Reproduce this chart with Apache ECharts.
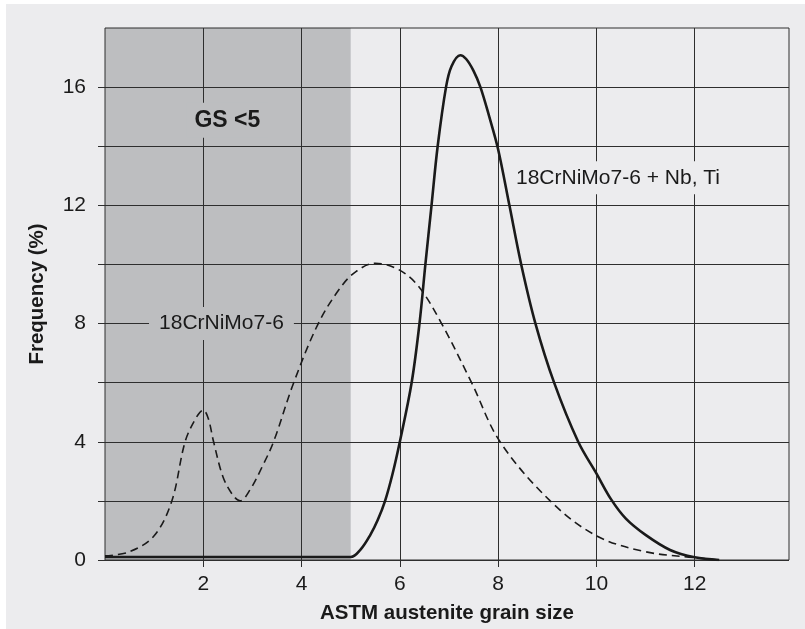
<!DOCTYPE html>
<html>
<head>
<meta charset="utf-8">
<script src="https://cdn.jsdelivr.net/npm/echarts@6/dist/echarts.min.js"></script>
<style>
  html, body { margin: 0; padding: 0; background: #ffffff; }
  #chart { position: absolute; left: 6px; top: 4px; width: 799px; height: 625px; }
</style>
</head>
<body>
<div id="chart"></div>
<script>
// grain size (x) / frequency % (y)
const baseX = [0, 0.5, 1.0, 1.36, 1.63, 1.85, 2.0, 2.1, 2.21, 2.4, 2.6, 2.75, 2.95, 3.2, 3.43, 3.84, 4.34, 4.78, 5.1, 5.5, 5.97, 6.38, 6.85, 7.46, 8.04, 9.06, 10.0, 11.0, 12.0, 12.5];
const baseY = [0.14, 0.28, 0.82, 2.0, 4.0, 4.8, 5.07, 4.8, 4.0, 2.82, 2.2, 2.0, 2.37, 3.16, 4.0, 6.0, 8.0, 9.19, 9.75, 10.04, 9.83, 9.26, 8.0, 6.0, 4.0, 2.0, 0.82, 0.28, 0.08, 0.0];

const nbtiX = [0, 5.0, 5.2, 5.4, 5.55, 5.7, 5.85, 6.0, 6.24, 6.4, 6.52, 6.645, 6.77, 6.94, 7.05, 7.23, 7.35, 7.5, 7.64, 7.82, 8.0, 8.23, 8.47, 8.76, 9.14, 9.63, 10.0, 10.3, 10.6, 11.0, 11.5, 12.0, 12.5];
const nbtiY = [0.1, 0.1, 0.35, 0.85, 1.35, 2.0, 2.9, 4.0, 6.0, 8.0, 10, 12, 14, 16, 16.7, 17.08, 16.95, 16.55, 16.0, 15.0, 13.9, 12, 10, 8, 6, 4, 2.93, 2.05, 1.4, 0.85, 0.34, 0.09, 0.0];

const xTicks = [2, 4, 6, 8, 10, 12];
const yTicks = [0, 2, 4, 6, 8, 10, 12, 14, 16];
const yLabels = [0, 4, 8, 12, 16];

const shadeFrom = 0, shadeTo = 5;

const annoX = [2.49, 2.37, 10.44];
const annoY = [14.88, 8.0, 12.93];
const annoText = ['GS <5', '18CrNiMo7-6', '18CrNiMo7-6 + Nb, Ti'];

const zip = (a, b) => a.map((v, i) => [v, b[i]]);

const font = '"Liberation Sans", Arial, Helvetica, sans-serif';
const ink = '#1a1a1a';
const bg = '#ececee';
const shade = '#bdbec0';

const annoStyle = [
  { fontSize: 23, fontWeight: 'bold', backgroundColor: shade, padding: [6, 8] },
  { fontSize: 21, fontWeight: 'normal', backgroundColor: shade, padding: [6, 10] },
  { fontSize: 21, fontWeight: 'normal', backgroundColor: bg, padding: [6, 4] }
];

const chart = echarts.init(document.getElementById('chart'), null, { renderer: 'canvas' });

const option = {
  backgroundColor: bg,
  animation: false,
  textStyle: { fontFamily: font },
  grid: {
    show: true,
    left: 99, right: 16, top: 24, bottom: 69,
    borderColor: '#2e2e2e', borderWidth: 1,
    backgroundColor: 'transparent'
  },
  xAxis: {
    type: 'value',
    min: 0, max: 13.92, interval: 2,
    name: 'ASTM austenite grain size',
    nameLocation: 'middle',
    nameGap: 43,
    nameTextStyle: { fontSize: 20.5, fontWeight: 'bold', color: ink, fontFamily: font },
    axisLine: { show: false },
    axisTick: { show: true, length: 7, inside: false, customValues: xTicks, lineStyle: { color: '#2e2e2e' } },
    axisLabel: { customValues: xTicks, fontSize: 21, color: ink, margin: 14, fontFamily: font },
    splitLine: { show: true, lineStyle: { color: '#2e2e2e', width: 1 } }
  },
  yAxis: {
    type: 'value',
    min: 0, max: 18, interval: 2,
    name: 'Frequency (%)',
    nameLocation: 'middle',
    nameGap: 57,
    nameTextStyle: { fontSize: 20.5, fontWeight: 'bold', color: ink, fontFamily: font },
    axisLine: { show: false },
    axisTick: { show: true, length: 7, customValues: yTicks, lineStyle: { color: '#2e2e2e' } },
    axisLabel: { customValues: yLabels, fontSize: 21, color: ink, margin: 19, fontFamily: font },
    splitLine: { show: true, lineStyle: { color: '#2e2e2e', width: 1 } }
  },
  series: [
    {
      type: 'line',
      data: [],
      silent: true,
      markArea: {
        silent: true,
        z: -1,
        itemStyle: { color: shade },
        data: [[{ xAxis: shadeFrom }, { xAxis: shadeTo }]]
      }
    },
    {
      name: '18CrNiMo7-6',
      type: 'line',
      data: zip(baseX, baseY),
      showSymbol: false,
      smooth: 0.35,
      lineStyle: { color: ink, width: 1.6, type: [8, 5] },
      z: 3
    },
    {
      name: '18CrNiMo7-6 + Nb, Ti',
      type: 'line',
      data: zip(nbtiX, nbtiY),
      showSymbol: false,
      smooth: 0.35,
      lineStyle: { color: ink, width: 2.6 },
      z: 4
    },
    {
      type: 'scatter',
      symbolSize: 0,
      silent: true,
      z: 5,
      itemStyle: { opacity: 1, color: 'transparent' },
      data: annoX.map((x, i) => ({
        value: [x, annoY[i]],
        label: Object.assign({
          show: true,
          position: 'inside',
          formatter: annoText[i],
          color: ink,
          opacity: 1,
          textBorderWidth: 0,
          fontFamily: font
        }, annoStyle[i])
      }))
    }
  ]
};

chart.setOption(option);
</script>
</body>
</html>
